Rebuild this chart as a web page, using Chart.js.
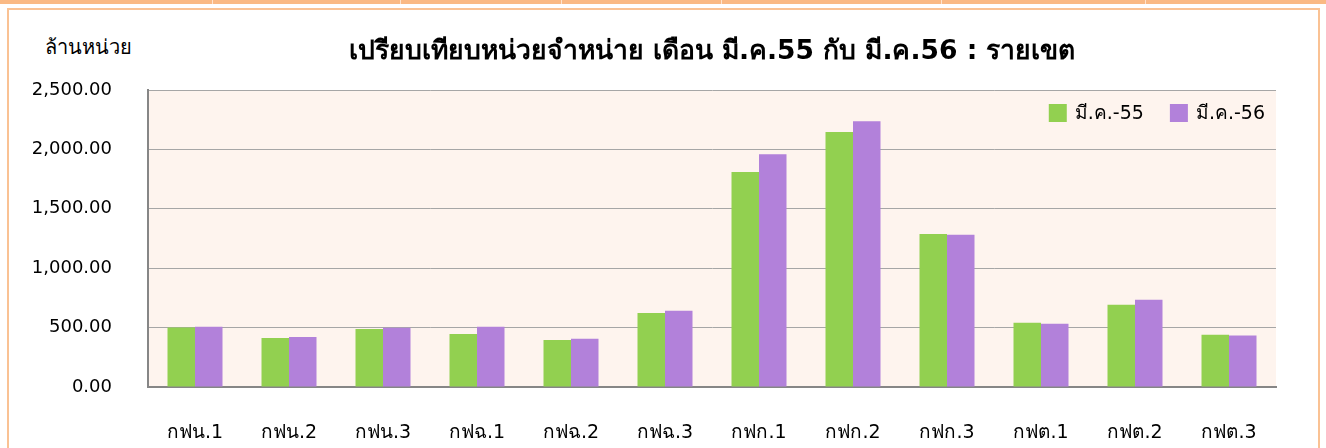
<!DOCTYPE html>
<html>
<head>
<meta charset="utf-8">
<script src="https://cdn.jsdelivr.net/npm/chart.js@4.4.0/dist/chart.umd.min.js"></script>
<style>
  html, body { margin: 0; padding: 0; background: #ffffff; }
  #wrap { position: relative; width: 1326px; height: 448px; overflow: hidden; }
  #topstrip { position: absolute; left: 0; top: 0; width: 1326px; height: 4px; background: #FAB984; }
  .sep { position: absolute; top: 0; width: 1px; height: 4px; background: #FFE3CC; }
  #box { position: absolute; left: 7px; top: 8px; width: 1313px; height: 450px; border: 2px solid #FAC294; box-sizing: border-box; }
  #unit { position: absolute; left: 45px; top: 31px; font-family: Tahoma, "DejaVu Sans", sans-serif; font-size: 20px; color: #000; }
  canvas { position: absolute; left: 0; top: 0; }
</style>
</head>
<body>
<div id="wrap">
  <div id="topstrip"></div>
  <div class="sep" style="left:212px"></div>
  <div class="sep" style="left:400px"></div>
  <div class="sep" style="left:561px"></div>
  <div class="sep" style="left:721px"></div>
  <div class="sep" style="left:941px"></div>
  <div class="sep" style="left:1145px"></div>
  <div id="box"></div>
  <div id="unit">ล้านหน่วย</div>
  <canvas id="c" width="1326" height="448"></canvas>
</div>
<script>
const categories = ["กฟน.1", "กฟน.2", "กฟน.3", "กฟฉ.1", "กฟฉ.2", "กฟฉ.3", "กฟก.1", "กฟก.2", "กฟก.3", "กฟต.1", "กฟต.2", "กฟต.3"];
const seriesNames = ["มี.ค.-55", "มี.ค.-56"];
const mar55 = [500, 412, 488, 446, 396, 623, 1810, 2146, 1288, 541, 693, 440];
const mar56 = [508, 421, 499, 508, 407, 642, 1959, 2236, 1282, 533, 735, 434];
const yTicks = [0, 500, 1000, 1500, 2000, 2500];
const titleText = "เปรียบเทียบหน่วยจำหน่าย เดือน มี.ค.55 กับ มี.ค.56 : รายเขต";

const FONT = 'Tahoma, "DejaVu Sans", sans-serif';

const plotBg = {
  id: 'plotBg',
  beforeDraw(chart) {
    const a = chart.chartArea, ctx = chart.ctx;
    ctx.save();
    ctx.fillStyle = '#FEF4EE';
    ctx.fillRect(a.left, a.top, a.right - a.left, a.bottom - a.top);
    ctx.restore();
  }
};

// Legend drawn inside the plot area, top-right, from the chart's own datasets
const innerLegend = {
  id: 'innerLegend',
  afterDraw(chart) {
    const a = chart.chartArea, ctx = chart.ctx;
    const box = 18, gap = 8, spacing = 26, fontSize = 19;
    ctx.save();
    ctx.font = fontSize + 'px ' + FONT;
    ctx.textBaseline = 'middle';
    ctx.textAlign = 'left';
    const items = chart.data.datasets.map(d => ({ text: d.label, color: d.backgroundColor, w: ctx.measureText(d.label).width }));
    let x = a.right - 11;
    const positions = [];
    for (let i = items.length - 1; i >= 0; i--) {
      const it = items[i];
      const textX = x - it.w;
      const boxX = textX - gap - box;
      positions[i] = { boxX, textX };
      x = boxX - spacing;
    }
    const cy = a.top + 23;
    items.forEach((it, i) => {
      ctx.fillStyle = it.color;
      ctx.fillRect(positions[i].boxX, cy - box / 2, box, box);
      ctx.fillStyle = '#000';
      ctx.fillText(it.text, positions[i].textX, cy + 1);
    });
    ctx.restore();
  }
};

new Chart(document.getElementById('c'), {
  type: 'bar',
  data: {
    labels: categories,
    datasets: [
      { label: seriesNames[0], data: mar55, backgroundColor: '#92D050', borderWidth: 0,
        categoryPercentage: 0.585, barPercentage: 1.0 },
      { label: seriesNames[1], data: mar56, backgroundColor: '#B281DA', borderWidth: 0,
        categoryPercentage: 0.585, barPercentage: 1.0 }
    ]
  },
  options: {
    responsive: false,
    animation: false,
    layout: { padding: { left: 0, right: 50, top: 0, bottom: 0 } },
    plugins: {
      tooltip: { enabled: false },
      legend: { display: false },
      title: {
        display: true,
        text: titleText,
        fullSize: false,
        color: '#000',
        font: { family: FONT, size: 26.5, weight: 'bold' },
        padding: { top: 36, bottom: 22.2 }
      }
    },
    scales: {
      x: {
        grid: { display: false, drawTicks: false },
        border: { display: true, color: '#868686', width: 2 },
        ticks: { color: '#000', font: { family: FONT, size: 19 }, padding: 35, maxRotation: 0, autoSkip: false },
        afterFit(s) { s.height = 61; }
      },
      y: {
        min: 0, max: 2500,
        afterBuildTicks(s) { s.ticks = yTicks.map(v => ({ value: v })); },
        grid: { color: '#A6A6A6', lineWidth: 1, drawTicks: false },
        border: { display: true, color: '#868686', width: 2 },
        ticks: {
          color: '#000',
          font: { family: FONT, size: 18 },
          padding: 36,
          callback: v => Number(v).toLocaleString('en-US', { minimumFractionDigits: 2, maximumFractionDigits: 2 })
        },
        afterFit(s) { s.width = 148; }
      }
    }
  },
  plugins: [plotBg, innerLegend]
});
</script>
</body>
</html>
